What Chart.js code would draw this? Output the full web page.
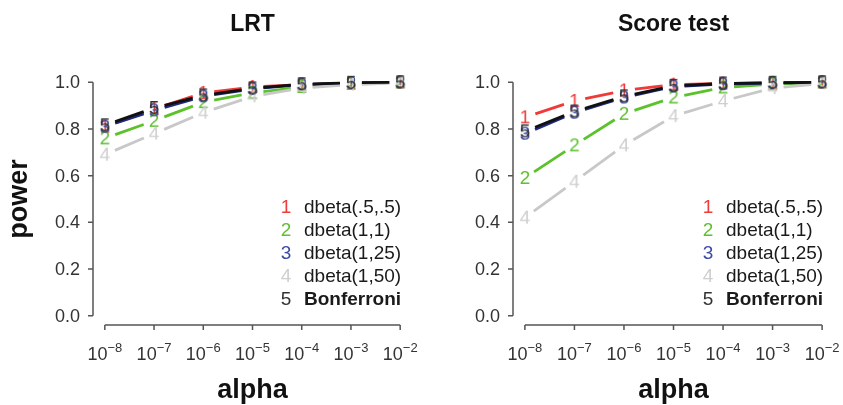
<!DOCTYPE html>
<html>
<head>
<meta charset="utf-8">
<script src="https://cdn.jsdelivr.net/npm/chart.js@4.4.0/dist/chart.umd.min.js"></script>
<style>
  body { margin: 0; background: #fff; }
  #wrap { position: relative; width: 843px; height: 405px; }
  canvas { position: absolute; top: 0; }
</style>
</head>
<body>
<div id="wrap">
  <canvas id="plotLRT" width="421" height="405" style="left:0"></canvas>
  <canvas id="plotScore" width="422" height="405" style="left:421px"></canvas>
</div>
<script>
// Eje x: exponentes de alpha (10^-8 ... 10^-2)
const exponentes = [-8, -7, -6, -5, -4, -3, -2];
const ticksY = [0, 0.2, 0.4, 0.6, 0.8, 1.0];
const etiquetasSerie = ['dbeta(.5,.5)', 'dbeta(1,1)', 'dbeta(1,25)', 'dbeta(1,50)', 'Bonferroni'];
const simbolos = ['1', '2', '3', '4', '5'];

// LRT
const lrtBeta55 = [0.81, 0.885, 0.955, 0.98, 0.99, 0.997, 1.0];
const lrtBeta11 = [0.76, 0.835, 0.915, 0.955, 0.98, 0.993, 1.0];
const lrtBeta125 = [0.81, 0.88, 0.94, 0.972, 0.99, 0.997, 1.0];
const lrtBeta150 = [0.69, 0.78, 0.87, 0.94, 0.975, 0.99, 0.998];
const lrtBonf = [0.816, 0.89, 0.944, 0.974, 0.992, 0.998, 1.0];

// Score test
const scoreBeta55 = [0.85, 0.92, 0.965, 0.99, 0.995, 0.998, 1.0];
const scoreBeta11 = [0.59, 0.73, 0.865, 0.935, 0.978, 0.992, 1.0];
const scoreBeta125 = [0.78, 0.87, 0.935, 0.982, 0.992, 0.997, 1.0];
const scoreBeta150 = [0.42, 0.574, 0.73, 0.855, 0.92, 0.975, 0.995];
const scoreBonf = [0.79, 0.875, 0.94, 0.985, 0.995, 0.998, 1.0];

const coloresLinea = ['#f03a3a', '#5cc22c', '#1e2a80', '#c8c8c8', '#111111'];
const coloresSimbolo = ['#ee3b3b', '#5fbf30', '#3b4aa6', '#cfcfcf', '#333333'];

const fuente = '"Liberation Sans", Arial, Helvetica, sans-serif';

// Crea un canvas con el número que se usa como símbolo del punto
let crearSimbolo = (texto, color) => {
  let c = document.createElement('canvas');
  c.width = 16;
  c.height = 22;
  let ctx = c.getContext('2d');
  ctx.fillStyle = color;
  ctx.font = '19px ' + fuente;
  ctx.textAlign = 'center';
  ctx.textBaseline = 'middle';
  ctx.fillText(texto, 8, 12);
  return c;
};

// Líneas entre puntos con hueco (como type = "b" en R)
const lineasConHueco = {
  id: 'lineasConHueco',
  beforeDatasetDraw(chart, args) {
    const puntos = args.meta.data;
    const ds = chart.data.datasets[args.index];
    const ctx = chart.ctx;
    const hueco = 11;
    ctx.save();
    ctx.strokeStyle = ds.borderColor;
    ctx.lineWidth = 2.8;
    for (let i = 0; i < puntos.length - 1; i++) {
      const a = puntos[i], b = puntos[i + 1];
      const dx = b.x - a.x, dy = b.y - a.y;
      const d = Math.hypot(dx, dy);
      if (d <= 2 * hueco) continue;
      const ux = dx / d, uy = dy / d;
      ctx.beginPath();
      ctx.moveTo(a.x + ux * hueco, a.y + uy * hueco);
      ctx.lineTo(b.x - ux * hueco, b.y - uy * hueco);
      ctx.stroke();
    }
    ctx.restore();
  }
};

// Ejes, títulos y leyenda al estilo de R
const ejesR = {
  id: 'ejesR',
  afterDraw(chart, args, opts) {
    const ctx = chart.ctx;
    const xs = chart.scales.x, ys = chart.scales.y;
    const area = chart.chartArea;
    ctx.save();
    ctx.strokeStyle = '#555';
    ctx.lineWidth = 1.5;
    ctx.fillStyle = '#333';

    // eje y
    ctx.beginPath();
    ctx.moveTo(area.left, ys.getPixelForValue(0));
    ctx.lineTo(area.left, ys.getPixelForValue(1));
    ticksY.forEach(v => {
      const py = ys.getPixelForValue(v);
      ctx.moveTo(area.left, py);
      ctx.lineTo(area.left - 5, py);
    });
    ctx.stroke();
    ctx.font = '18px ' + fuente;
    ctx.textAlign = 'right';
    ctx.textBaseline = 'middle';
    ticksY.forEach(v => {
      ctx.fillText(v.toFixed(1), area.left - 13, ys.getPixelForValue(v) + 1);
    });

    // eje x
    const x0 = xs.getPixelForValue(exponentes[0]);
    const x1 = xs.getPixelForValue(exponentes[exponentes.length - 1]);
    ctx.beginPath();
    ctx.moveTo(x0, area.bottom);
    ctx.lineTo(x1, area.bottom);
    exponentes.forEach(e => {
      const px = xs.getPixelForValue(e);
      ctx.moveTo(px, area.bottom);
      ctx.lineTo(px, area.bottom + 5);
    });
    ctx.stroke();
    ctx.textAlign = 'left';
    ctx.textBaseline = 'alphabetic';
    exponentes.forEach(e => {
      const px = xs.getPixelForValue(e);
      const base = '10', sup = '\u2212' + Math.abs(e);
      ctx.font = '18px ' + fuente;
      const wb = ctx.measureText(base).width;
      ctx.font = '13px ' + fuente;
      const ws = ctx.measureText(sup).width;
      const inicio = px - (wb + ws) / 2;
      ctx.font = '18px ' + fuente;
      ctx.fillText(base, inicio, area.bottom + 35);
      ctx.font = '13px ' + fuente;
      ctx.fillText(sup, inicio + wb, area.bottom + 27);
    });

    // títulos
    const centro = (x0 + x1) / 2;
    ctx.fillStyle = '#111';
    ctx.textAlign = 'center';
    ctx.textBaseline = 'middle';
    ctx.font = 'bold 23px ' + fuente;
    ctx.fillText(opts.titulo, centro, 25);
    ctx.textBaseline = 'alphabetic';
    ctx.font = 'bold 27px ' + fuente;
    ctx.fillText('alpha', centro, area.bottom + 73);
    if (opts.tituloY) {
      ctx.save();
      ctx.translate(27, (ys.getPixelForValue(0) + ys.getPixelForValue(1)) / 2);
      ctx.rotate(-Math.PI / 2);
      ctx.fillText(opts.tituloY, 0, 0);
      ctx.restore();
    }

    // leyenda
    const xNum = area.right - 126;
    ctx.textBaseline = 'middle';
    etiquetasSerie.forEach((txt, i) => {
      const py = 208 + i * 23;
      ctx.textAlign = 'center';
      ctx.font = '19px ' + fuente;
      ctx.fillStyle = coloresSimbolo[i];
      ctx.fillText(simbolos[i], xNum, py);
      ctx.textAlign = 'left';
      ctx.fillStyle = '#1a1a1a';
      ctx.font = (i === 4 ? 'bold ' : '') + '19px ' + fuente;
      ctx.fillText(txt, xNum + 18, py);
    });
    ctx.restore();
  }
};

let crearGrafico = (id, series, titulo, tituloY, padding) => {
  let datasets = series.map((valores, i) => ({
    label: etiquetasSerie[i],
    data: valores.map((v, k) => ({ x: exponentes[k], y: v })),
    borderColor: coloresLinea[i],
    showLine: false,
    pointStyle: crearSimbolo(simbolos[i], coloresSimbolo[i]),
    pointRadius: 8,
    clip: false,
    order: series.length - i
  }));

  return new Chart(document.getElementById(id), {
    type: 'line',
    data: { datasets: datasets },
    options: {
      responsive: false,
      animation: false,
      events: [],
      layout: { padding: padding },
      scales: {
        x: { type: 'linear', min: -8.24, max: -1.76, display: false },
        y: { min: -0.04, max: 1.04, display: false }
      },
      plugins: {
        legend: { display: false },
        tooltip: { enabled: false },
        ejesR: { titulo: titulo, tituloY: tituloY }
      }
    },
    plugins: [lineasConHueco, ejesR]
  });
};

crearGrafico('plotLRT', [lrtBeta55, lrtBeta11, lrtBeta125, lrtBeta150, lrtBonf],
  'LRT', 'power', { left: 93, right: 7, top: 73, bottom: 80 });
crearGrafico('plotScore', [scoreBeta55, scoreBeta11, scoreBeta125, scoreBeta150, scoreBonf],
  'Score test', null, { left: 92, right: 6, top: 73, bottom: 80 });
</script>
</body>
</html>
